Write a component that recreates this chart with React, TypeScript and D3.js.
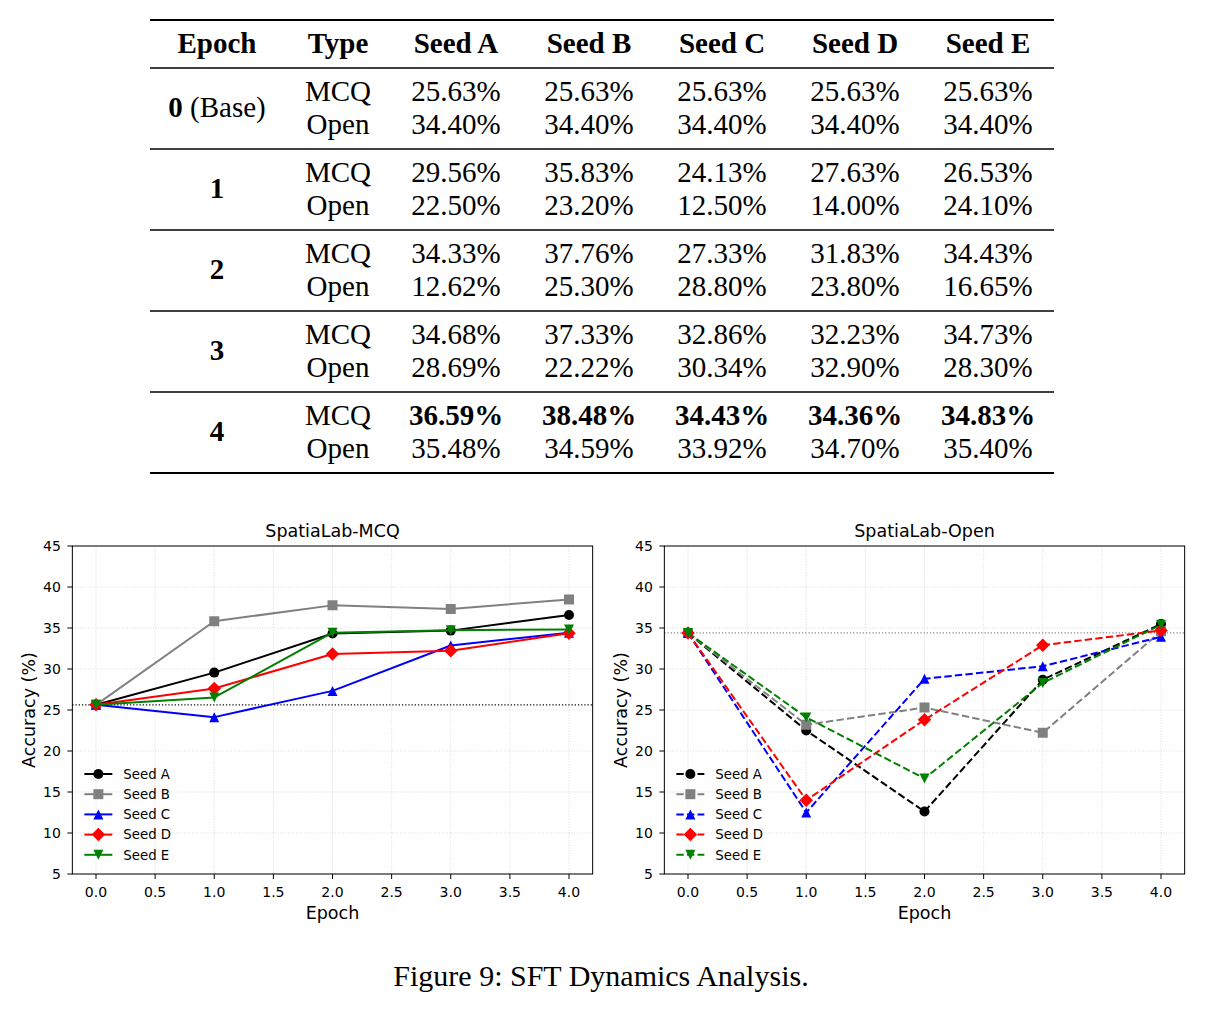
import * as d3 from "d3";

// ---- data -----------------------------------------------------------------
const EPOCHS = [0, 1, 2, 3, 4];
const SEEDS = ["Seed A", "Seed B", "Seed C", "Seed D", "Seed E"];

const mcqSeedA = [25.63, 29.56, 34.33, 34.68, 36.59];
const mcqSeedB = [25.63, 35.83, 37.76, 37.33, 38.48];
const mcqSeedC = [25.63, 24.13, 27.33, 32.86, 34.43];
const mcqSeedD = [25.63, 27.63, 31.83, 32.23, 34.36];
const mcqSeedE = [25.63, 26.53, 34.43, 34.73, 34.83];

const openSeedA = [34.4, 22.5, 12.62, 28.69, 35.48];
const openSeedB = [34.4, 23.2, 25.3, 22.22, 34.59];
const openSeedC = [34.4, 12.5, 28.8, 30.34, 33.92];
const openSeedD = [34.4, 14.0, 23.8, 32.9, 34.7];
const openSeedE = [34.4, 24.1, 16.65, 28.3, 35.4];

const MCQ_BASE = 25.63;
const OPEN_BASE = 34.4;

const Y_TICKS = [5, 10, 15, 20, 25, 30, 35, 40, 45];
const X_TICKS = [0, 0.5, 1, 1.5, 2, 2.5, 3, 3.5, 4];

const mcqSeries = [mcqSeedA, mcqSeedB, mcqSeedC, mcqSeedD, mcqSeedE];
const openSeries = [openSeedA, openSeedB, openSeedC, openSeedD, openSeedE];

// ---- style ----------------------------------------------------------------
const COLORS = ["#000000", "#808080", "#0000ff", "#ff0000", "#008000"];
const MARKERS = ["o", "s", "^", "D", "v"];
const SANS = "'DejaVu Sans', sans-serif";
const SERIF = "'Liberation Serif', 'Times New Roman', serif";

const PLOT_TOP = 546;
const PLOT_BOTTOM = 874;
const PLOT_W = 520.3;

function markerPath(m: string, s: number) {
  const h = s / 2;
  if (m === "o") return d3.symbol(d3.symbolCircle, Math.PI * h * h)()!;
  if (m === "s") return `M${-h},${-h}H${h}V${h}H${-h}Z`;
  if (m === "^") return `M0,${-h}L${h},${h}L${-h},${h}Z`;
  if (m === "v") return `M0,${h}L${h},${-h}L${-h},${-h}Z`;
  const d = h * 1.35;
  return `M0,${-d}L${d},0L0,${d}L${-d},0Z`;
}

function Chart({ left, title, series, base, baseColor, dashed }: any) {
  const x = d3.scaleLinear().domain([-0.2, 4.2]).range([left, left + PLOT_W]);
  const y = d3.scaleLinear().domain([5, 45]).range([PLOT_BOTTOM, PLOT_TOP]);
  const line = d3.line<number>().x((_, i) => x(EPOCHS[i])).y((v) => y(v));
  const dash = dashed ? "7.4,3.2" : undefined;
  const cx = left + PLOT_W / 2;

  return (
    <g>
      <defs>
        <clipPath id={`clip-${left}`}>
          <rect x={left} y={PLOT_TOP} width={PLOT_W} height={PLOT_BOTTOM - PLOT_TOP} />
        </clipPath>
      </defs>
      {/* grid */}
      {Y_TICKS.map((t) => (
        <line key={"gy" + t} x1={left} x2={left + PLOT_W} y1={y(t)} y2={y(t)}
          stroke="#b0b0b0" strokeOpacity={0.55} strokeWidth={0.8} strokeDasharray="1,1.6" />
      ))}
      {X_TICKS.map((t) => (
        <line key={"gx" + t} x1={x(t)} x2={x(t)} y1={PLOT_TOP} y2={PLOT_BOTTOM}
          stroke="#b0b0b0" strokeOpacity={0.55} strokeWidth={0.8} strokeDasharray="1,1.6" />
      ))}
      {/* baseline */}
      <line x1={left} x2={left + PLOT_W} y1={y(base)} y2={y(base)}
        stroke={baseColor} strokeWidth={1.2} strokeDasharray="1.2,2" />
      {/* series */}
      <g clipPath={`url(#clip-${left})`}>
        {series.map((vals: number[], si: number) => (
          <g key={si}>
            <path d={line(vals)!} fill="none" stroke={COLORS[si]} strokeWidth={2}
              strokeDasharray={dash} strokeLinejoin="round" />
            {vals.map((v, i) => (
              <path key={i} d={markerPath(MARKERS[si], 10)}
                transform={`translate(${x(EPOCHS[i])},${y(v)})`} fill={COLORS[si]} />
            ))}
          </g>
        ))}
      </g>
      {/* frame */}
      <rect x={left} y={PLOT_TOP} width={PLOT_W} height={PLOT_BOTTOM - PLOT_TOP}
        fill="none" stroke="#000" strokeWidth={1} />
      {/* ticks */}
      {Y_TICKS.map((t) => (
        <g key={"ty" + t}>
          <line x1={left - 5} x2={left} y1={y(t)} y2={y(t)} stroke="#000" strokeWidth={1} />
          <text x={left - 11.5} y={y(t)} dy="0.36em" textAnchor="end" fontSize={14}
            fontFamily={SANS} fill="#000">{t}</text>
        </g>
      ))}
      {X_TICKS.map((t) => (
        <g key={"tx" + t}>
          <line x1={x(t)} x2={x(t)} y1={PLOT_BOTTOM} y2={PLOT_BOTTOM + 5} stroke="#000" strokeWidth={1} />
          <text x={x(t)} y={PLOT_BOTTOM + 18} dy="0.36em" textAnchor="middle" fontSize={14}
            fontFamily={SANS} fill="#000">{t.toFixed(1)}</text>
        </g>
      ))}
      <text x={cx} y={913} dy="0.36em" textAnchor="middle" fontSize={17.5} fontFamily={SANS}>Epoch</text>
      <text transform={`translate(${left - 44},${(PLOT_TOP + PLOT_BOTTOM) / 2}) rotate(-90)`}
        dy="0.36em" textAnchor="middle" fontSize={17.5} fontFamily={SANS}>Accuracy (%)</text>
      <text x={cx} y={531} dy="0.36em" textAnchor="middle" fontSize={17.5} fontFamily={SANS}>{title}</text>
      {/* legend */}
      {SEEDS.map((s, si) => {
        const ly = 774 + si * 20.2;
        const lx = left + 12;
        return (
          <g key={s}>
            <line x1={lx} x2={lx + 28} y1={ly} y2={ly} stroke={COLORS[si]} strokeWidth={2}
              strokeDasharray={dashed ? "7.4,3.2" : undefined} />
            <path d={markerPath(MARKERS[si], 10)} transform={`translate(${lx + 14},${ly})`} fill={COLORS[si]} />
            <text x={lx + 39} y={ly} dy="0.36em" fontSize={13.3} fontFamily={SANS}>{s}</text>
          </g>
        );
      })}
    </g>
  );
}

// ---- table ----------------------------------------------------------------
const COL_X = [217, 338, 456, 589, 722, 855, 988];
const HEADERS = ["Epoch", "Type", ...SEEDS];
const RULES = [68, 149, 230, 311, 392];

function Table() {
  const fmt = (v: number) => v.toFixed(2) + "%";
  return (
    <g fontFamily={SERIF} fontSize={29} fill="#000">
      <line x1={150} x2={1054} y1={20} y2={20} stroke="#000" strokeWidth={2.2} />
      <line x1={150} x2={1054} y1={473} y2={473} stroke="#000" strokeWidth={2.2} />
      {RULES.map((r) => (
        <line key={r} x1={150} x2={1054} y1={r} y2={r} stroke="#000" strokeWidth={1.3} />
      ))}
      {HEADERS.map((h, i) => (
        <text key={h} x={COL_X[i]} y={53} textAnchor="middle" fontWeight="bold">{h}</text>
      ))}
      {EPOCHS.map((e, ei) => {
        const y0 = RULES[ei];
        const last = ei === EPOCHS.length - 1;
        return (
          <g key={e}>
            <text x={COL_X[0]} y={y0 + 49} textAnchor="middle">
              <tspan fontWeight="bold">{e}</tspan>
              {e === 0 ? <tspan> (Base)</tspan> : null}
            </text>
            <text x={COL_X[1]} y={y0 + 33} textAnchor="middle">MCQ</text>
            <text x={COL_X[1]} y={y0 + 66} textAnchor="middle">Open</text>
            {SEEDS.map((s, si) => (
              <g key={s}>
                <text x={COL_X[2 + si]} y={y0 + 33} textAnchor="middle"
                  fontWeight={last ? "bold" : "normal"}>{fmt(mcqSeries[si][ei])}</text>
                <text x={COL_X[2 + si]} y={y0 + 66} textAnchor="middle">{fmt(openSeries[si][ei])}</text>
              </g>
            ))}
          </g>
        );
      })}
    </g>
  );
}

export default function App() {
  return (
    <svg width={1207} height={1010} viewBox="0 0 1207 1010"
      style={{ position: "absolute", left: 0, top: 0, background: "#fff" }}>
      <Table />
      <Chart left={72.35} title="SpatiaLab-MCQ" series={mcqSeries} base={MCQ_BASE} baseColor="#000" dashed={false} />
      <Chart left={664.35} title="SpatiaLab-Open" series={openSeries} base={OPEN_BASE} baseColor="#888" dashed={true} />
      <text x={601} y={986} textAnchor="middle" fontFamily={SERIF} fontSize={30}>Figure 9: SFT Dynamics Analysis.</text>
    </svg>
  );
}
